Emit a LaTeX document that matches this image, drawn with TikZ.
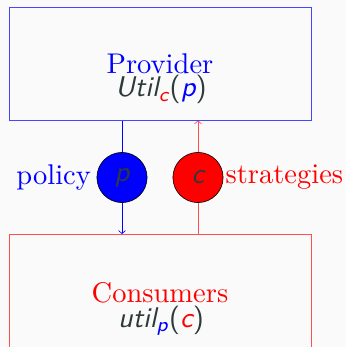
\documentclass[tikz,border=0pt]{standalone}
\usepackage{fontspec}
\usetikzlibrary{arrows.meta,backgrounds}
\definecolor{bg}{RGB}{250,250,250}
\definecolor{ink}{RGB}{45,58,58}
\definecolor{boxblue}{RGB}{70,70,255}
\definecolor{boxred}{RGB}{255,80,80}
% text is set at 10pt and enlarged, so the 10pt designs of the fonts are used
\tikzset{
  big/.style={scale=2.85, font=\fontsize{10}{12}\selectfont},
  box/.style={draw, line width=0.8pt, minimum width=302pt, minimum height=113pt, inner sep=0pt},
  agent/.style={big, circle, draw=black, line width=0.6pt, minimum size=17.6pt, inner sep=0pt,
    text=ink, font=\fontsize{10}{12}\selectfont\sffamily\itshape},
  title/.style={big, anchor=base, inner sep=0pt},
  util/.style={big, text=ink, font=\fontsize{10}{12}\selectfont\sffamily, anchor=base, inner sep=0pt},
  side/.style={big, inner sep=0.4pt},
  flow/.style={line width=0.7pt, -{Straight Barb[length=3pt,width=7pt]}}
}
\begin{document}
\begin{tikzpicture}[x=1pt,y=-1pt]
\useasboundingbox (0,0) rectangle (346,347);
\clip (0,0) rectangle (346,347);
% the two parties
\node[box, draw=boxblue] (prov) at (160.2,63.5) {};
\node[box, draw=boxred, minimum height=130pt, anchor=north] (cons) at (160.2,234) {};
\node[title, text=blue] (provname) at (160,74) {Provider};
\node[util] (provutil) at (161,97) {{\itshape Util}\textsubscript{\itshape\color{red}c}(\textcolor{blue}{\itshape p})};
\node[title, text=red] (consname) at (160,302) {Consumers};
\node[util] (consutil) at (161,327) {{\itshape util}\textsubscript{\itshape\color{blue}p}(\textcolor{red}{\itshape c})};
% decision variables
\node[agent, fill=blue] (p) at (122,177.5) {p};
\node[agent, fill=red] (c) at (198,177.5) {c};
\node[side, text=blue, anchor=east, xshift=-1.2pt] (policy) at (p.west) {policy};
\node[side, text=red, anchor=west] (strat) at (c.east) {strategies};
% flows between the parties, passing behind the circles
\begin{scope}[on background layer]
  \fill[bg] (0,0) rectangle (346,347);
  \draw[flow, blue] (prov.south -| p) -- (cons.north -| p);
  \draw[flow, boxred] (cons.north -| c) -- (prov.south -| c);
\end{scope}
\end{tikzpicture}
\end{document}
